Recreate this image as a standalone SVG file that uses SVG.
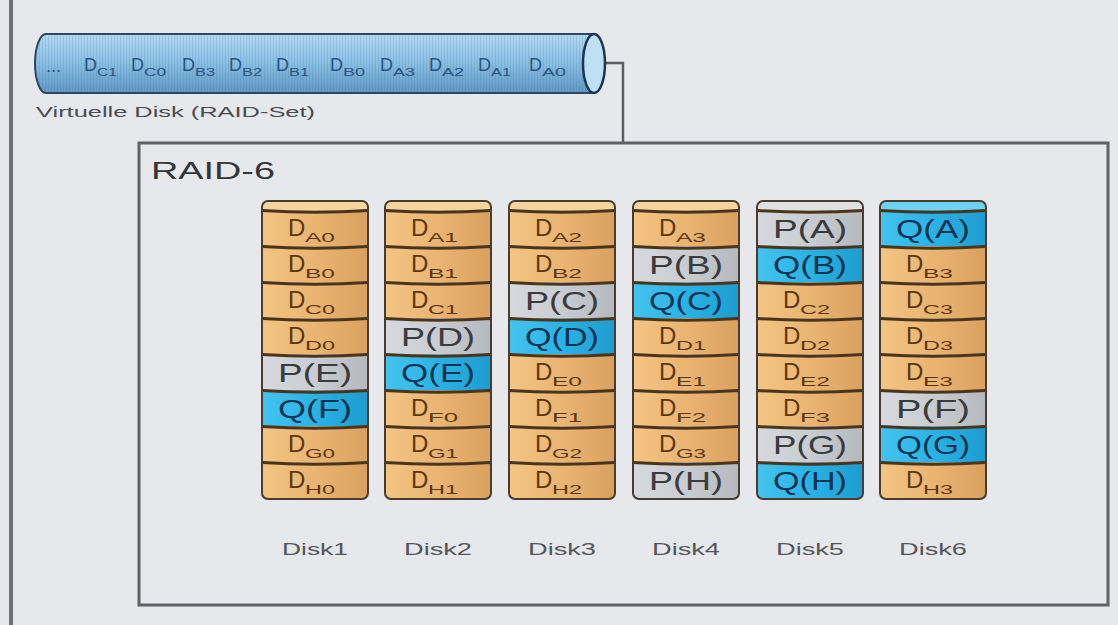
<svg xmlns="http://www.w3.org/2000/svg" width="1118" height="625" viewBox="0 0 1118 625">
  <defs>
    <linearGradient id="gData" x1="0" y1="0" x2="1" y2="0">
      <stop offset="0" stop-color="#f3c584"/>
      <stop offset="0.5" stop-color="#eab471"/>
      <stop offset="1" stop-color="#d9a160"/>
    </linearGradient>
    <linearGradient id="gGray" x1="0" y1="0" x2="1" y2="0">
      <stop offset="0" stop-color="#d6d9dd"/>
      <stop offset="0.5" stop-color="#c9ccd0"/>
      <stop offset="1" stop-color="#b5b8bd"/>
    </linearGradient>
    <linearGradient id="gBlue" x1="0" y1="0" x2="1" y2="0">
      <stop offset="0" stop-color="#44c4ef"/>
      <stop offset="0.5" stop-color="#2ab2e4"/>
      <stop offset="1" stop-color="#1e9ccf"/>
    </linearGradient>
    <linearGradient id="gTube" x1="0" y1="0" x2="0" y2="1">
      <stop offset="0" stop-color="#b4daf2"/>
      <stop offset="0.45" stop-color="#8ec2e6"/>
      <stop offset="1" stop-color="#5e97c4"/>
    </linearGradient>
    <pattern id="stripes" width="3" height="10" patternUnits="userSpaceOnUse">
      <rect x="0" y="0" width="1" height="10" fill="#3c6d96" opacity="0.18"/>
    </pattern>
  </defs>
  <style>
    text { font-family: "Liberation Sans", Arial, sans-serif; }
    .dt { fill: url(#gData); }
    .pg { fill: url(#gGray); }
    .qb { fill: url(#gBlue); }
    .capD { fill: #f6d49e; }
    .capG { fill: #dfe2e5; }
    .capB { fill: #6fd2f3; }
    .sep { fill: none; stroke: #4a341c; stroke-width: 3; }
    .frame { fill: none; stroke: #4a3d30; stroke-width: 2; }
    .d { font-size: 24px; fill: #5a3710; }
    .s { font-size: 13px; fill: #5a3710; }
    .p { font-size: 25px; fill: #3a3b3d; text-anchor: middle; }
    .q { font-size: 25px; fill: #0d3452; text-anchor: middle; }
    .lbl { font-size: 17px; fill: #545658; text-anchor: middle; }
    .vd { font-size: 18px; fill: #2a5480; }
    .vs { font-size: 10px; fill: #2a5480; }
  </style>

  <!-- page background and left rule -->
  <rect x="0" y="0" width="1118" height="625" fill="#e6e8eb"/>
  <rect x="9" y="0" width="4" height="625" fill="#6e7175"/>

  <!-- connectors -->
  <g id="connectors" fill="none" stroke="#5b5e62" stroke-width="2.5">
    <path d="M606,63 H623 V143"/>
  </g>

  <!-- virtual disk (RAID set) -->
  <g id="virtual-disk">
    <path d="M46,34 H594 V93 H46 A11,29.5 0 0 1 46,34 Z" fill="url(#gTube)" stroke="#2a4763" stroke-width="2"/>
    <path d="M46,34 H594 V93 H46 A11,29.5 0 0 1 46,34 Z" fill="url(#stripes)"/>
    <ellipse cx="594" cy="63.5" rx="11" ry="29.5" fill="#bde0f5" stroke="#1c3650" stroke-width="2.5"/>
    <text class="vd" x="46" y="72">...</text>
    <text class="vd" x="84" y="71">D</text><text class="vs" x="97" y="76" textLength="20" lengthAdjust="spacingAndGlyphs">C1</text>
    <text class="vd" x="131" y="71">D</text><text class="vs" x="144" y="76" textLength="22" lengthAdjust="spacingAndGlyphs">C0</text>
    <text class="vd" x="182" y="71">D</text><text class="vs" x="195" y="76" textLength="20" lengthAdjust="spacingAndGlyphs">B3</text>
    <text class="vd" x="229" y="71">D</text><text class="vs" x="242" y="76" textLength="20" lengthAdjust="spacingAndGlyphs">B2</text>
    <text class="vd" x="276" y="71">D</text><text class="vs" x="289" y="76" textLength="20" lengthAdjust="spacingAndGlyphs">B1</text>
    <text class="vd" x="330" y="71">D</text><text class="vs" x="343" y="76" textLength="22" lengthAdjust="spacingAndGlyphs">B0</text>
    <text class="vd" x="380" y="71">D</text><text class="vs" x="393" y="76" textLength="22" lengthAdjust="spacingAndGlyphs">A3</text>
    <text class="vd" x="429" y="71">D</text><text class="vs" x="442" y="76" textLength="22" lengthAdjust="spacingAndGlyphs">A2</text>
    <text class="vd" x="478" y="71">D</text><text class="vs" x="491" y="76" textLength="20" lengthAdjust="spacingAndGlyphs">A1</text>
    <text class="vd" x="529" y="71">D</text><text class="vs" x="542" y="76" textLength="24" lengthAdjust="spacingAndGlyphs">A0</text>
    <text x="36" y="117" font-size="15" fill="#4a4c4f" textLength="279" lengthAdjust="spacingAndGlyphs">Virtuelle Disk (RAID-Set)</text>
  </g>

  <!-- RAID-6 container -->
  <g id="raid6">
    <rect x="139" y="143" width="969" height="462" fill="#e6e8eb" stroke="#5f6266" stroke-width="3"/>
    <text x="151" y="179" font-size="23" fill="#343537" textLength="124" lengthAdjust="spacingAndGlyphs">RAID-6</text>
  </g>

  <!-- Disk 1 -->
  <g id="disk1">
    <rect class="capD" x="262" y="201" width="106" height="12" rx="5"/>
    <rect class="dt" x="262" y="210.5" width="106" height="36"/>
    <rect class="dt" x="262" y="246.5" width="106" height="36"/>
    <rect class="dt" x="262" y="282.5" width="106" height="36"/>
    <rect class="dt" x="262" y="318.5" width="106" height="36"/>
    <rect class="pg" x="262" y="354.5" width="106" height="36"/>
    <rect class="qb" x="262" y="390.5" width="106" height="36"/>
    <rect class="dt" x="262" y="426.5" width="106" height="36"/>
    <rect class="dt" x="262" y="462.5" width="106" height="36" rx="4"/>
    <path class="sep" d="M262,210.5 Q315,214 368,210.5 M262,246.5 Q315,250 368,246.5 M262,282.5 Q315,286 368,282.5 M262,318.5 Q315,322 368,318.5 M262,354.5 Q315,358 368,354.5 M262,390.5 Q315,394 368,390.5 M262,426.5 Q315,430 368,426.5 M262,462.5 Q315,466 368,462.5"/>
    <rect class="frame" x="262" y="201" width="106" height="298" rx="6"/>
    <text class="d" x="288" y="236">D</text><text class="s" x="305" y="242" textLength="30" lengthAdjust="spacingAndGlyphs">A0</text>
    <text class="d" x="288" y="272">D</text><text class="s" x="305" y="278" textLength="30" lengthAdjust="spacingAndGlyphs">B0</text>
    <text class="d" x="288" y="308">D</text><text class="s" x="305" y="314" textLength="30" lengthAdjust="spacingAndGlyphs">C0</text>
    <text class="d" x="288" y="344">D</text><text class="s" x="305" y="350" textLength="30" lengthAdjust="spacingAndGlyphs">D0</text>
    <text class="p" x="315" y="382" textLength="74" lengthAdjust="spacingAndGlyphs">P(E)</text>
    <text class="q" x="315" y="418" textLength="74" lengthAdjust="spacingAndGlyphs">Q(F)</text>
    <text class="d" x="288" y="452">D</text><text class="s" x="305" y="458" textLength="30" lengthAdjust="spacingAndGlyphs">G0</text>
    <text class="d" x="288" y="488">D</text><text class="s" x="305" y="494" textLength="30" lengthAdjust="spacingAndGlyphs">H0</text>
    <text class="lbl" x="315" y="555" textLength="66" lengthAdjust="spacingAndGlyphs">Disk1</text>
  </g>

  <!-- Disk 2 -->
  <g id="disk2">
    <rect class="capD" x="385" y="201" width="106" height="12" rx="5"/>
    <rect class="dt" x="385" y="210.5" width="106" height="36"/>
    <rect class="dt" x="385" y="246.5" width="106" height="36"/>
    <rect class="dt" x="385" y="282.5" width="106" height="36"/>
    <rect class="pg" x="385" y="318.5" width="106" height="36"/>
    <rect class="qb" x="385" y="354.5" width="106" height="36"/>
    <rect class="dt" x="385" y="390.5" width="106" height="36"/>
    <rect class="dt" x="385" y="426.5" width="106" height="36"/>
    <rect class="dt" x="385" y="462.5" width="106" height="36" rx="4"/>
    <path class="sep" d="M385,210.5 Q438,214 491,210.5 M385,246.5 Q438,250 491,246.5 M385,282.5 Q438,286 491,282.5 M385,318.5 Q438,322 491,318.5 M385,354.5 Q438,358 491,354.5 M385,390.5 Q438,394 491,390.5 M385,426.5 Q438,430 491,426.5 M385,462.5 Q438,466 491,462.5"/>
    <rect class="frame" x="385" y="201" width="106" height="298" rx="6"/>
    <text class="d" x="411" y="236">D</text><text class="s" x="428" y="242" textLength="30" lengthAdjust="spacingAndGlyphs">A1</text>
    <text class="d" x="411" y="272">D</text><text class="s" x="428" y="278" textLength="30" lengthAdjust="spacingAndGlyphs">B1</text>
    <text class="d" x="411" y="308">D</text><text class="s" x="428" y="314" textLength="30" lengthAdjust="spacingAndGlyphs">C1</text>
    <text class="p" x="438" y="346" textLength="74" lengthAdjust="spacingAndGlyphs">P(D)</text>
    <text class="q" x="438" y="382" textLength="74" lengthAdjust="spacingAndGlyphs">Q(E)</text>
    <text class="d" x="411" y="416">D</text><text class="s" x="428" y="422" textLength="30" lengthAdjust="spacingAndGlyphs">F0</text>
    <text class="d" x="411" y="452">D</text><text class="s" x="428" y="458" textLength="30" lengthAdjust="spacingAndGlyphs">G1</text>
    <text class="d" x="411" y="488">D</text><text class="s" x="428" y="494" textLength="30" lengthAdjust="spacingAndGlyphs">H1</text>
    <text class="lbl" x="438" y="555" textLength="68" lengthAdjust="spacingAndGlyphs">Disk2</text>
  </g>

  <!-- Disk 3 -->
  <g id="disk3">
    <rect class="capD" x="509" y="201" width="106" height="12" rx="5"/>
    <rect class="dt" x="509" y="210.5" width="106" height="36"/>
    <rect class="dt" x="509" y="246.5" width="106" height="36"/>
    <rect class="pg" x="509" y="282.5" width="106" height="36"/>
    <rect class="qb" x="509" y="318.5" width="106" height="36"/>
    <rect class="dt" x="509" y="354.5" width="106" height="36"/>
    <rect class="dt" x="509" y="390.5" width="106" height="36"/>
    <rect class="dt" x="509" y="426.5" width="106" height="36"/>
    <rect class="dt" x="509" y="462.5" width="106" height="36" rx="4"/>
    <path class="sep" d="M509,210.5 Q562,214 615,210.5 M509,246.5 Q562,250 615,246.5 M509,282.5 Q562,286 615,282.5 M509,318.5 Q562,322 615,318.5 M509,354.5 Q562,358 615,354.5 M509,390.5 Q562,394 615,390.5 M509,426.5 Q562,430 615,426.5 M509,462.5 Q562,466 615,462.5"/>
    <rect class="frame" x="509" y="201" width="106" height="298" rx="6"/>
    <text class="d" x="535" y="236">D</text><text class="s" x="552" y="242" textLength="30" lengthAdjust="spacingAndGlyphs">A2</text>
    <text class="d" x="535" y="272">D</text><text class="s" x="552" y="278" textLength="30" lengthAdjust="spacingAndGlyphs">B2</text>
    <text class="p" x="562" y="310" textLength="74" lengthAdjust="spacingAndGlyphs">P(C)</text>
    <text class="q" x="562" y="346" textLength="74" lengthAdjust="spacingAndGlyphs">Q(D)</text>
    <text class="d" x="535" y="380">D</text><text class="s" x="552" y="386" textLength="30" lengthAdjust="spacingAndGlyphs">E0</text>
    <text class="d" x="535" y="416">D</text><text class="s" x="552" y="422" textLength="30" lengthAdjust="spacingAndGlyphs">F1</text>
    <text class="d" x="535" y="452">D</text><text class="s" x="552" y="458" textLength="30" lengthAdjust="spacingAndGlyphs">G2</text>
    <text class="d" x="535" y="488">D</text><text class="s" x="552" y="494" textLength="30" lengthAdjust="spacingAndGlyphs">H2</text>
    <text class="lbl" x="562" y="555" textLength="68" lengthAdjust="spacingAndGlyphs">Disk3</text>
  </g>

  <!-- Disk 4 -->
  <g id="disk4">
    <rect class="capD" x="633" y="201" width="106" height="12" rx="5"/>
    <rect class="dt" x="633" y="210.5" width="106" height="36"/>
    <rect class="pg" x="633" y="246.5" width="106" height="36"/>
    <rect class="qb" x="633" y="282.5" width="106" height="36"/>
    <rect class="dt" x="633" y="318.5" width="106" height="36"/>
    <rect class="dt" x="633" y="354.5" width="106" height="36"/>
    <rect class="dt" x="633" y="390.5" width="106" height="36"/>
    <rect class="dt" x="633" y="426.5" width="106" height="36"/>
    <rect class="pg" x="633" y="462.5" width="106" height="36" rx="4"/>
    <path class="sep" d="M633,210.5 Q686,214 739,210.5 M633,246.5 Q686,250 739,246.5 M633,282.5 Q686,286 739,282.5 M633,318.5 Q686,322 739,318.5 M633,354.5 Q686,358 739,354.5 M633,390.5 Q686,394 739,390.5 M633,426.5 Q686,430 739,426.5 M633,462.5 Q686,466 739,462.5"/>
    <rect class="frame" x="633" y="201" width="106" height="298" rx="6"/>
    <text class="d" x="659" y="236">D</text><text class="s" x="676" y="242" textLength="30" lengthAdjust="spacingAndGlyphs">A3</text>
    <text class="p" x="686" y="274" textLength="74" lengthAdjust="spacingAndGlyphs">P(B)</text>
    <text class="q" x="686" y="310" textLength="74" lengthAdjust="spacingAndGlyphs">Q(C)</text>
    <text class="d" x="659" y="344">D</text><text class="s" x="676" y="350" textLength="30" lengthAdjust="spacingAndGlyphs">D1</text>
    <text class="d" x="659" y="380">D</text><text class="s" x="676" y="386" textLength="30" lengthAdjust="spacingAndGlyphs">E1</text>
    <text class="d" x="659" y="416">D</text><text class="s" x="676" y="422" textLength="30" lengthAdjust="spacingAndGlyphs">F2</text>
    <text class="d" x="659" y="452">D</text><text class="s" x="676" y="458" textLength="30" lengthAdjust="spacingAndGlyphs">G3</text>
    <text class="p" x="686" y="490" textLength="74" lengthAdjust="spacingAndGlyphs">P(H)</text>
    <text class="lbl" x="686" y="555" textLength="68" lengthAdjust="spacingAndGlyphs">Disk4</text>
  </g>

  <!-- Disk 5 -->
  <g id="disk5">
    <rect class="capG" x="757" y="201" width="106" height="12" rx="5"/>
    <rect class="pg" x="757" y="210.5" width="106" height="36"/>
    <rect class="qb" x="757" y="246.5" width="106" height="36"/>
    <rect class="dt" x="757" y="282.5" width="106" height="36"/>
    <rect class="dt" x="757" y="318.5" width="106" height="36"/>
    <rect class="dt" x="757" y="354.5" width="106" height="36"/>
    <rect class="dt" x="757" y="390.5" width="106" height="36"/>
    <rect class="pg" x="757" y="426.5" width="106" height="36"/>
    <rect class="qb" x="757" y="462.5" width="106" height="36" rx="4"/>
    <path class="sep" d="M757,210.5 Q810,214 863,210.5 M757,246.5 Q810,250 863,246.5 M757,282.5 Q810,286 863,282.5 M757,318.5 Q810,322 863,318.5 M757,354.5 Q810,358 863,354.5 M757,390.5 Q810,394 863,390.5 M757,426.5 Q810,430 863,426.5 M757,462.5 Q810,466 863,462.5" stroke="#3d3f42"/>
    <rect class="frame" x="757" y="201" width="106" height="298" rx="6" stroke="#3f4245"/>
    <text class="p" x="810" y="238" textLength="74" lengthAdjust="spacingAndGlyphs">P(A)</text>
    <text class="q" x="810" y="274" textLength="74" lengthAdjust="spacingAndGlyphs">Q(B)</text>
    <text class="d" x="783" y="308">D</text><text class="s" x="800" y="314" textLength="30" lengthAdjust="spacingAndGlyphs">C2</text>
    <text class="d" x="783" y="344">D</text><text class="s" x="800" y="350" textLength="30" lengthAdjust="spacingAndGlyphs">D2</text>
    <text class="d" x="783" y="380">D</text><text class="s" x="800" y="386" textLength="30" lengthAdjust="spacingAndGlyphs">E2</text>
    <text class="d" x="783" y="416">D</text><text class="s" x="800" y="422" textLength="30" lengthAdjust="spacingAndGlyphs">F3</text>
    <text class="p" x="810" y="454" textLength="74" lengthAdjust="spacingAndGlyphs">P(G)</text>
    <text class="q" x="810" y="490" textLength="74" lengthAdjust="spacingAndGlyphs">Q(H)</text>
    <text class="lbl" x="810" y="555" textLength="68" lengthAdjust="spacingAndGlyphs">Disk5</text>
  </g>

  <!-- Disk 6 -->
  <g id="disk6">
    <rect class="capB" x="880" y="201" width="106" height="12" rx="5"/>
    <rect class="qb" x="880" y="210.5" width="106" height="36"/>
    <rect class="dt" x="880" y="246.5" width="106" height="36"/>
    <rect class="dt" x="880" y="282.5" width="106" height="36"/>
    <rect class="dt" x="880" y="318.5" width="106" height="36"/>
    <rect class="dt" x="880" y="354.5" width="106" height="36"/>
    <rect class="pg" x="880" y="390.5" width="106" height="36"/>
    <rect class="qb" x="880" y="426.5" width="106" height="36"/>
    <rect class="dt" x="880" y="462.5" width="106" height="36" rx="4"/>
    <path class="sep" d="M880,210.5 Q933,214 986,210.5 M880,246.5 Q933,250 986,246.5 M880,282.5 Q933,286 986,282.5 M880,318.5 Q933,322 986,318.5 M880,354.5 Q933,358 986,354.5 M880,390.5 Q933,394 986,390.5 M880,426.5 Q933,430 986,426.5 M880,462.5 Q933,466 986,462.5"/>
    <rect class="frame" x="880" y="201" width="106" height="298" rx="6" stroke="#2d3a44"/>
    <text class="q" x="933" y="238" textLength="74" lengthAdjust="spacingAndGlyphs">Q(A)</text>
    <text class="d" x="906" y="272">D</text><text class="s" x="923" y="278" textLength="30" lengthAdjust="spacingAndGlyphs">B3</text>
    <text class="d" x="906" y="308">D</text><text class="s" x="923" y="314" textLength="30" lengthAdjust="spacingAndGlyphs">C3</text>
    <text class="d" x="906" y="344">D</text><text class="s" x="923" y="350" textLength="30" lengthAdjust="spacingAndGlyphs">D3</text>
    <text class="d" x="906" y="380">D</text><text class="s" x="923" y="386" textLength="30" lengthAdjust="spacingAndGlyphs">E3</text>
    <text class="p" x="933" y="418" textLength="74" lengthAdjust="spacingAndGlyphs">P(F)</text>
    <text class="q" x="933" y="454" textLength="74" lengthAdjust="spacingAndGlyphs">Q(G)</text>
    <text class="d" x="906" y="488">D</text><text class="s" x="923" y="494" textLength="30" lengthAdjust="spacingAndGlyphs">H3</text>
    <text class="lbl" x="933" y="555" textLength="68" lengthAdjust="spacingAndGlyphs">Disk6</text>
  </g>
</svg>
